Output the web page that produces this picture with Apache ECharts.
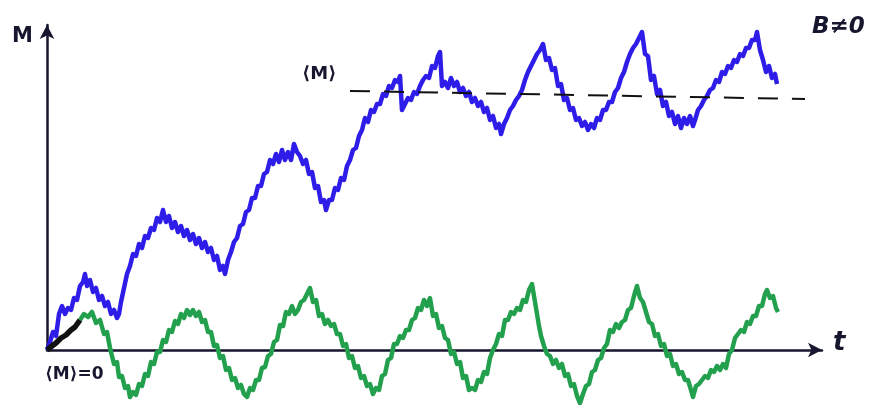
<!DOCTYPE html>
<html>
<head>
<meta charset="utf-8">
<script src="https://cdn.jsdelivr.net/npm/echarts@6/dist/echarts.min.js"></script>
<style>
  html, body { margin: 0; padding: 0; background: #fff; }
  #chart { width: 872px; height: 405px; }
</style>
</head>
<body>
<div id="chart"></div>
<script>
// t runs along the horizontal axis, M up the vertical one (origin at the axes' corner)
const magnetNonZero = [
  [0,0],[3,8],[6,18],[9,14],[12,36],[15,44],[18,36],[21,42],[24,40],[27,52],[30,50],[33,64],[36,68],[38,76],
  [40,64],[43,70],[46,58],[49,62],[52,50],[55,54],[58,44],[61,48],[64,36],[67,40],[70,32],[72,36],[74,48],
  [77,62],[80,76],[83,84],[86,96],[89,94],[92,106],[95,102],[98,114],[101,112],[104,122],[107,120],[110,132],
  [113,128],[116,140],[119,128],[122,134],[125,122],[128,128],[131,118],[134,124],[137,114],[140,120],[143,110],
  [146,116],[149,106],[152,112],[155,102],[158,108],[161,98],[164,102],[167,90],[170,94],[173,80],[176,84],
  [178,76],[181,90],[184,98],[187,108],[190,112],[193,124],[196,126],[199,138],[202,140],[205,152],[208,152],
  [211,164],[214,164],[217,176],[220,178],[223,190],[226,186],[229,196],[232,188],[235,200],[238,190],[241,198],
  [244,190],[247,206],[250,198],[253,194],[256,186],[259,190],[262,176],[265,178],[268,162],[271,164],[274,148],
  [277,150],[279,140],[282,150],[285,150],[288,162],[291,160],[294,172],[297,170],[300,184],[303,190],[306,200],
  [309,202],[312,214],[315,220],[318,232],[321,228],[324,240],[327,238],[330,246],[333,246],[336,256],[339,254],
  [342,264],[345,262],[348,270],[351,268],[353,274],[355,240],[358,246],[361,252],[364,250],[367,258],[370,256],
  [373,264],[376,270],[379,274],[382,272],[385,284],[388,282],[391,294],[393,298],[395,264],[398,268],[401,262],
  [404,272],[407,264],[410,268],[413,258],[416,262],[419,254],[422,258],[425,248],[428,252],[431,244],[434,248],
  [437,238],[440,242],[443,230],[446,234],[449,222],[452,226],[454,216],[457,226],[460,232],[463,240],[466,244],
  [469,250],[472,254],[475,260],[478,270],[481,278],[484,284],[487,290],[490,296],[493,300],[496,306],[499,290],
  [502,292],[505,280],[508,282],[511,264],[514,266],[517,250],[520,252],[523,240],[526,242],[529,230],[532,232],
  [535,224],[538,228],[541,220],[544,226],[547,222],[550,232],[553,230],[556,240],[559,240],[562,248],[565,248],
  [568,258],[571,262],[574,272],[577,278],[580,288],[583,296],[586,302],[589,306],[592,312],[595,318],[598,296],
  [601,294],[604,270],[607,274],[610,256],[613,260],[616,244],[619,248],[622,234],[625,238],[628,226],[631,234],
  [634,222],[637,232],[640,226],[643,234],[646,224],[648,230],[651,240],[654,244],[657,250],[660,254],[663,260],
  [666,262],[669,270],[672,268],[675,278],[678,276],[681,284],[684,282],[687,290],[690,288],[693,296],[696,294],
  [699,302],[702,302],[705,310],[708,310],[710,318],[713,300],[716,290],[719,278],[722,284],[725,272],[728,276],
  [730,266]
]

const magnetStart = [[0,0],[5,4],[9,7],[14,12],[19,15],[24,20],[28,23],[33,30]]

const magnetZero = [
  [33,30],[37,36],[41,33],[45,38],[49,27],[53,30],[57,16],[60,18],[63,2],[65,4],[67,-14],[70,-12],[72,-27],
  [75,-26],[78,-38],[81,-36],[83,-47],[86,-42],[89,-45],[92,-34],[95,-36],[98,-24],[101,-26],[104,-12],[107,-14],
  [110,-2],[113,-2],[116,10],[119,8],[122,20],[125,18],[128,29],[131,26],[134,36],[137,32],[140,40],[143,35],
  [146,40],[149,34],[152,38],[155,28],[158,30],[161,18],[164,18],[167,4],[170,5],[173,-8],[176,-6],[179,-20],
  [182,-18],[185,-30],[188,-28],[191,-38],[194,-35],[197,-44],[200,-47],[203,-38],[206,-40],[209,-30],[212,-30],
  [215,-18],[218,-17],[221,-6],[224,-4],[227,8],[230,10],[233,25],[236,24],[239,38],[242,36],[245,44],[248,36],
  [251,40],[254,48],[257,50],[260,56],[263,62],[266,48],[269,50],[272,34],[275,36],[278,26],[281,30],[284,24],
  [287,26],[290,16],[293,16],[296,4],[299,6],[302,-8],[305,-6],[308,-18],[311,-16],[314,-28],[317,-26],[320,-36],
  [323,-34],[326,-44],[329,-38],[332,-40],[335,-26],[338,-24],[341,-10],[344,-8],[347,6],[350,6],[353,14],
  [356,12],[359,20],[362,20],[365,30],[368,32],[371,42],[374,40],[377,50],[380,44],[383,52],[386,34],[389,36],
  [392,22],[395,24],[398,12],[401,10],[404,-4],[407,-2],[410,-14],[413,-12],[416,-28],[419,-26],[422,-40],
  [425,-38],[428,-40],[431,-30],[434,-32],[437,-22],[440,-24],[443,-8],[446,0],[449,6],[452,16],[455,14],
  [458,30],[461,30],[464,38],[467,36],[470,42],[473,40],[476,50],[479,48],[482,60],[485,66],[488,48],[490,50],
  [492,24],[494,14],[497,4],[500,-4],[503,-6],[506,-14],[509,-10],[512,-18],[515,-14],[518,-26],[521,-24],
  [524,-36],[527,-34],[530,-46],[533,-53],[536,-44],[539,-36],[542,-34],[545,-22],[548,-20],[551,-10],[554,-8],
  [557,2],[560,6],[563,20],[566,18],[569,26],[572,22],[575,28],[578,30],[581,40],[584,42],[587,54],[590,64],
  [593,52],[596,48],[599,38],[602,28],[605,26],[608,14],[611,16],[614,4],[617,6],[620,-6],[623,-4],[626,-16],
  [629,-14],[632,-24],[635,-22],[638,-30],[641,-30],[644,-40],[646,-47],[649,-36],[652,-34],[655,-30],[658,-26],
  [661,-28],[664,-20],[667,-22],[670,-16],[673,-20],[676,-14],[679,-18],[682,-4],[685,0],[688,12],[691,16],
  [694,20],[697,18],[700,28],[703,26],[706,34],[709,34],[712,44],[715,44],[718,56],[720,60],[723,52],[726,54],
  [729,42],[731,38]
]

const meanLevel = [[303,259],[758,251]]

const axisRange = { t: [0, 775], m: [0, 325] }

const ink = '#16162e'
const chart = echarts.init(document.getElementById('chart'))

chart.setOption({
  animation: false,
  backgroundColor: '#ffffff',
  grid: { left: 47, right: 50, top: 25, bottom: 55 },
  xAxis: {
    type: 'value',
    min: axisRange.t[0],
    max: axisRange.t[1],
    axisLine: {
      symbol: ['none', 'arrow'],
      symbolSize: [11, 14],
      lineStyle: { color: ink, width: 2.5 }
    },
    axisTick: { show: false },
    axisLabel: { show: false },
    splitLine: { show: false }
  },
  yAxis: {
    type: 'value',
    min: axisRange.m[0],
    max: axisRange.m[1],
    axisLine: {
      show: true,
      symbol: ['none', 'arrow'],
      symbolSize: [11, 14],
      lineStyle: { color: ink, width: 2.5 }
    },
    axisTick: { show: false },
    axisLabel: { show: false },
    splitLine: { show: false }
  },
  series: [
    {
      name: 'B≠0',
      type: 'line',
      clip: false,
      symbol: 'none',
      data: magnetNonZero,
      lineStyle: { color: '#2e1ce8', width: 4.5, join: 'round' },
      z: 4
    },
    {
      name: 'start',
      type: 'line',
      clip: false,
      symbol: 'none',
      data: magnetStart,
      lineStyle: { color: '#111111', width: 5.5 },
      z: 5
    },
    {
      name: 'B=0',
      type: 'line',
      clip: false,
      symbol: 'none',
      data: magnetZero,
      lineStyle: { color: '#23a04e', width: 4.5, join: 'round' },
      z: 3
    },
    {
      name: '<M>',
      type: 'line',
      clip: false,
      symbol: 'none',
      data: meanLevel,
      lineStyle: { color: '#111111', width: 2, type: [20, 14] },
      z: 6
    }
  ],
  graphic: [
    { type: 'text', left: 12, top: 26, style: { text: 'M', font: 'bold 21px "DejaVu Sans"', fill: ink } },
    { type: 'text', left: 833, top: 330, style: { text: 't', font: 'italic bold 26px "DejaVu Sans"', fill: ink } },
    { type: 'text', left: 812, top: 16, style: { text: 'B≠0', font: 'italic bold 23px "DejaVu Sans"', fill: ink } },
    { type: 'text', left: 302, top: 65, style: { text: '⟨M⟩', font: 'bold 18px "DejaVu Sans"', fill: ink } },
    { type: 'text', left: 45, top: 366, style: { text: '⟨M⟩=0', font: 'bold 17px "DejaVu Sans"', fill: ink } }
  ]
})
</script>
</body>
</html>
